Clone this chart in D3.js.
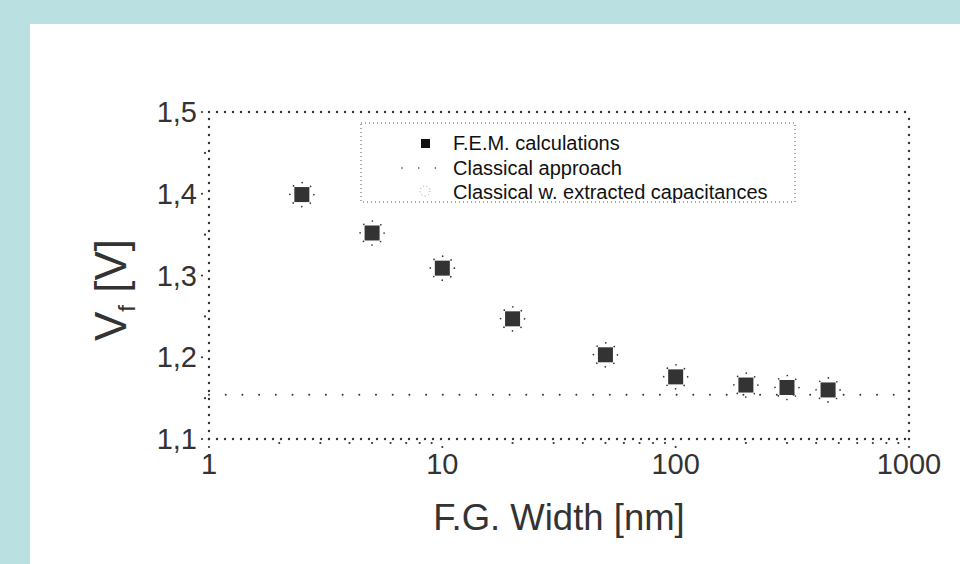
<!DOCTYPE html>
<html>
<head>
<meta charset="utf-8">
<script src="https://cdn.jsdelivr.net/npm/d3@7"></script>
<style>
  html, body { margin: 0; padding: 0; background: #bae0e2; }
  svg { display: block; font-family: "Liberation Sans", Arial, sans-serif; }
</style>
</head>
<body>
<svg></svg>
<script>
// datos
var widths = [2.5, 5, 10, 20, 50, 100, 200, 300, 450];
var femValues = [1.399, 1.352, 1.309, 1.247, 1.203, 1.176, 1.166, 1.163, 1.160];
var extractedValues = [1.399, 1.352, 1.309, 1.247, 1.203, 1.176, 1.166, 1.163, 1.160];
var classicalValue = 1.154;
var xTicks = [1, 10, 100, 1000];
var yTicks = [1.1, 1.2, 1.3, 1.4, 1.5];
var legendLabels = ['F.E.M. calculations', 'Classical approach', 'Classical w. extracted capacitances'];

var w = 960, h = 564,
	ink = '#333',
	svg = d3.select('svg').attr('width', w).attr('height', h);

svg.append('rect').attr('x', 0).attr('y', 0).attr('width', w).attr('height', h).attr('fill', '#bae0e2');
svg.append('rect').attr('x', 30).attr('y', 24).attr('width', w - 30).attr('height', h - 24).attr('fill', 'white');

var x = d3.scaleLog().domain([1, 1000]).range([209, 909]),
	y = d3.scaleLinear().domain([1.1, 1.5]).range([439, 112]);

var xMinor = [];
[1, 10, 100].forEach(function(dec){
	for (var k = 2; k <= 9; k++) xMinor.push(dec * k);
});
var yMinor = [1.15, 1.25, 1.35, 1.45];

function dotted(sel, width, gap) {
	return sel.attr('stroke', ink)
		.attr('stroke-width', width)
		.attr('stroke-linecap', 'round')
		.attr('stroke-dasharray', '0,' + gap)
		.attr('fill', 'none');
}

// ticks (puntos)
var g = svg.append('g');
g.selectAll('.xmaj').data(xTicks).enter().append('circle')
	.attr('cx', function(d){return x(d)}).attr('cy', y(1.1) + 8).attr('r', 1.1).attr('fill', ink);
g.selectAll('.xmin').data(xMinor).enter().append('circle')
	.attr('cx', function(d){return x(d)}).attr('cy', y(1.1) + 4).attr('r', 1.1).attr('fill', ink);
g.selectAll('.ymaj').data(yTicks).enter().append('circle')
	.attr('cx', x(1) - 7).attr('cy', function(d){return y(d)}).attr('r', 1.1).attr('fill', ink);
g.selectAll('.ymin').data(yMinor).enter().append('circle')
	.attr('cx', x(1) - 4).attr('cy', function(d){return y(d)}).attr('r', 1.1).attr('fill', ink);

// marco punteado
var x0 = x(1), x1 = x(1000), y0 = y(1.1), y1 = y(1.5);
dotted(svg.append('line').attr('x1', x0).attr('y1', y0).attr('x2', x1).attr('y2', y0), 2.4, 8);
dotted(svg.append('line').attr('x1', x0).attr('y1', y0).attr('x2', x0).attr('y2', y1), 2.4, 8);
dotted(svg.append('line').attr('x1', x0).attr('y1', y1).attr('x2', x1).attr('y2', y1), 2.4, 8);
dotted(svg.append('line').attr('x1', x1).attr('y1', y0).attr('x2', x1).attr('y2', y1), 2.4, 8);

// etiquetas de los ejes
svg.selectAll('.xlab').data(xTicks).enter().append('text')
	.attr('x', function(d){return x(d)}).attr('y', 474)
	.attr('text-anchor', 'middle').attr('font-size', 29).attr('fill', ink)
	.text(function(d){return d});
svg.selectAll('.ylab').data(yTicks).enter().append('text')
	.attr('x', 197).attr('y', function(d){return y(d) + 10})
	.attr('text-anchor', 'end').attr('font-size', 29).attr('fill', ink)
	.text(function(d){return d3.format('.1f')(d).replace('.', ',')});

svg.append('text').attr('x', 559).attr('y', 530)
	.attr('text-anchor', 'middle').attr('font-size', 36.5).attr('fill', ink)
	.text('F.G. Width [nm]');

var yt = svg.append('text')
	.attr('transform', 'translate(126,290) rotate(-90)')
	.attr('text-anchor', 'middle').attr('font-size', 44).attr('fill', ink);
yt.append('tspan').text('V');
yt.append('tspan').attr('font-size', 24).attr('dy', 9).text('f');
yt.append('tspan').attr('dy', -9).text(' [V]');

// linea clasica
dotted(svg.append('line')
	.attr('x1', x(1)).attr('y1', y(classicalValue))
	.attr('x2', x(1000)).attr('y2', y(classicalValue)), 2, 16.7);

// circulos punteados (capacidades extraidas)
var pts = widths.map(function(d, i){return {w: d, fem: femValues[i], ext: extractedValues[i]}});
dotted(svg.selectAll('.ext').data(pts).enter().append('circle')
	.attr('cx', function(d){return x(d.w)})
	.attr('cy', function(d){return y(d.ext)})
	.attr('r', 12), 1.7, 9.42);

// cuadrados F.E.M.
svg.selectAll('.fem').data(pts).enter().append('rect')
	.attr('x', function(d){return x(d.w) - 7.5})
	.attr('y', function(d){return y(d.fem) - 7.5})
	.attr('width', 15).attr('height', 15)
	.attr('fill', ink);

// leyenda
var leg = svg.append('g');
leg.append('rect').attr('x', 361).attr('y', 123).attr('width', 434).attr('height', 79)
	.attr('fill', 'white').attr('stroke', '#555').attr('stroke-width', 1)
	.attr('stroke-dasharray', '1,3');
leg.append('rect').attr('x', 421).attr('y', 139).attr('width', 9).attr('height', 9).attr('fill', '#111');
dotted(leg.append('line').attr('x1', 402).attr('y1', 168).attr('x2', 440).attr('y2', 168), 1.6, 16.7);
leg.append('circle').attr('cx', 425).attr('cy', 191).attr('r', 5)
	.attr('fill', 'none').attr('stroke', '#999').attr('stroke-width', 1)
	.attr('stroke-dasharray', '1,2.5');
leg.selectAll('.legtxt').data(legendLabels).enter().append('text')
	.attr('x', 453).attr('y', function(d, i){return 150 + i * 24.5})
	.attr('font-size', 20).attr('fill', '#111')
	.text(function(d){return d});
</script>
</body>
</html>
